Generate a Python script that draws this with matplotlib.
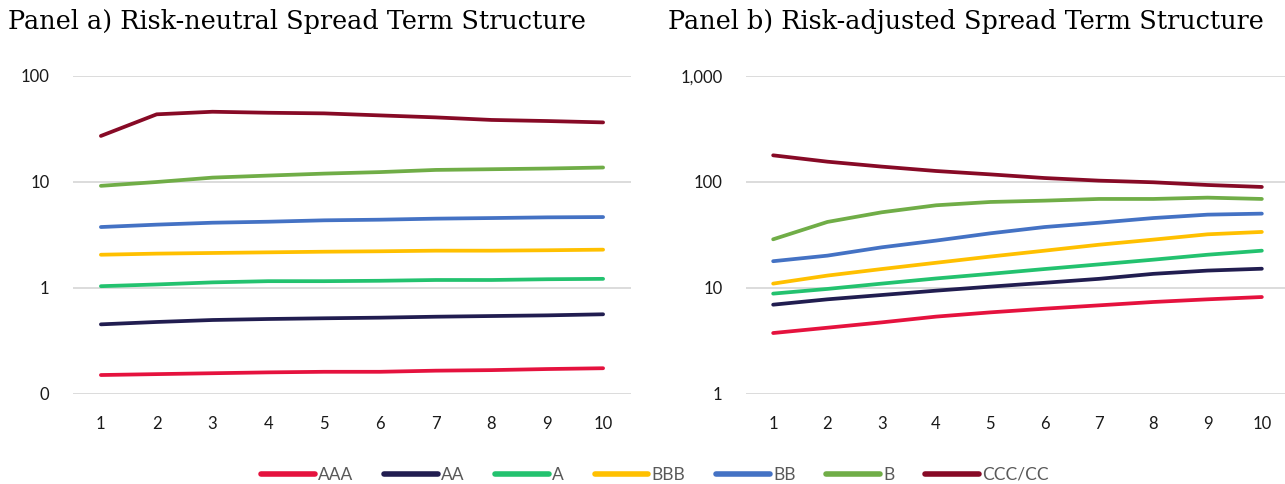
import matplotlib
matplotlib.use("Agg")
import matplotlib.pyplot as plt
from matplotlib.lines import Line2D

maturities = [1, 2, 3, 4, 5, 6, 7, 8, 9, 10]
ratings = ["AAA", "AA", "A", "BBB", "BB", "B", "CCC/CC"]
colors = ["#E5123E", "#211D50", "#23C26F", "#FFC000", "#4472C4", "#70AD47", "#870A26"]

# Panel a) risk-neutral spreads
rn_aaa = [0.151, 0.154, 0.157, 0.160, 0.162, 0.162, 0.166, 0.168, 0.172, 0.175]
rn_aa = [0.454, 0.478, 0.499, 0.510, 0.518, 0.525, 0.536, 0.544, 0.552, 0.565]
rn_a = [1.04, 1.08, 1.13, 1.16, 1.16, 1.17, 1.19, 1.19, 1.21, 1.22]
rn_bbb = [2.06, 2.11, 2.14, 2.17, 2.20, 2.22, 2.25, 2.25, 2.27, 2.30]
rn_bb = [3.76, 3.96, 4.13, 4.22, 4.35, 4.41, 4.51, 4.57, 4.64, 4.67]
rn_b = [9.2, 10.0, 11.0, 11.5, 12.0, 12.4, 13.0, 13.2, 13.4, 13.7]
rn_ccc = [27.2, 43.5, 46.0, 45.0, 44.4, 42.5, 40.7, 38.5, 37.6, 36.5]

# Panel b) risk-adjusted spreads
ra_aaa = [3.76, 4.22, 4.74, 5.37, 5.89, 6.38, 6.86, 7.38, 7.82, 8.22]
ra_aa = [6.96, 7.82, 8.59, 9.44, 10.3, 11.2, 12.2, 13.6, 14.6, 15.2]
ra_a = [8.85, 9.8, 11.0, 12.3, 13.6, 15.1, 16.7, 18.5, 20.6, 22.5]
ra_bbb = [11.0, 13.1, 15.1, 17.3, 19.8, 22.5, 25.6, 28.6, 32.1, 33.8]
ra_bb = [17.9, 20.2, 24.2, 28.0, 32.8, 37.6, 41.3, 45.7, 49.2, 50.3]
ra_b = [28.8, 42.0, 51.8, 60.3, 64.8, 66.7, 69.2, 69.2, 71.2, 69.2]
ra_ccc = [178.5, 155.5, 139.7, 127.0, 118.0, 109.0, 103.0, 99.4, 93.7, 89.8]

ticks_a = [0.1, 1, 10, 100]
ticklabels_a = ["0", "1", "10", "100"]
ticks_b = [1, 10, 100, 1000]
ticklabels_b = ["1", "10", "100", "1,000"]

title_a = "Panel a) Risk-neutral Spread Term Structure"
title_b = "Panel b) Risk-adjusted Spread Term Structure"

series_a = [rn_aaa, rn_aa, rn_a, rn_bbb, rn_bb, rn_b, rn_ccc]
series_b = [ra_aaa, ra_aa, ra_a, ra_bbb, ra_bb, ra_b, ra_ccc]

W, H = 1285, 484
fig = plt.figure(figsize=(W / 100, H / 100), dpi=100)
fig.patch.set_facecolor("white")

def px_axes(left, right, top, bottom):
    return fig.add_axes([left / W, 1 - bottom / H, (right - left) / W, (bottom - top) / H])

ax_a = px_axes(73, 631, 76, 394)
ax_b = px_axes(746, 1289, 76, 394)

tick_font = "Lato"

def style(ax, series, ticks, labels):
    ax.set_yscale("log")
    for vals, c in zip(series, colors):
        ax.plot(maturities, vals, color=c, lw=2.7, solid_capstyle="round", zorder=3)
    ax.set_ylim(ticks[0], ticks[-1])
    ax.set_xlim(0.5, 10.5)
    ax.set_yticks(ticks)
    ax.set_yticklabels(labels)
    ax.yaxis.set_minor_locator(matplotlib.ticker.NullLocator())
    ax.set_xticks(maturities)
    ax.set_xticklabels([str(m) for m in maturities])
    for s in ax.spines.values():
        s.set_visible(False)
    ax.grid(axis="y", color="#D9D9D9", lw=1.3, zorder=0)
    ax.tick_params(axis="both", length=0, labelsize=12, colors="#1a1a1a")
    ax.tick_params(axis="y", pad=17)
    ax.tick_params(axis="x", pad=15.5)
    for lab in ax.get_xticklabels() + ax.get_yticklabels():
        lab.set_fontfamily(tick_font)
    ax.set_facecolor("none")

style(ax_a, series_a, ticks_a, ticklabels_a)
style(ax_b, series_b, ticks_b, ticklabels_b)

fig.text(8 / W, 1 - 22 / H, title_a, fontsize=18.4, family="DejaVu Serif", va="center", ha="left", color="black")
fig.text(668 / W, 1 - 22 / H, title_b, fontsize=18.4, family="DejaVu Serif", va="center", ha="left", color="black")

handles = [Line2D([0], [0], color=c, lw=4, solid_capstyle="round") for c in colors]
leg = fig.legend(handles, ratings, loc="center", bbox_to_anchor=(655 / W, 1 - 475 / H), ncol=7,
                 frameon=False, handlelength=3.1, handletextpad=0.2, columnspacing=1.75,
                 prop={"family": tick_font, "size": 12.5})
for t in leg.get_texts():
    t.set_color("#595959")

fig.savefig("out.png", dpi=100, facecolor="white")
